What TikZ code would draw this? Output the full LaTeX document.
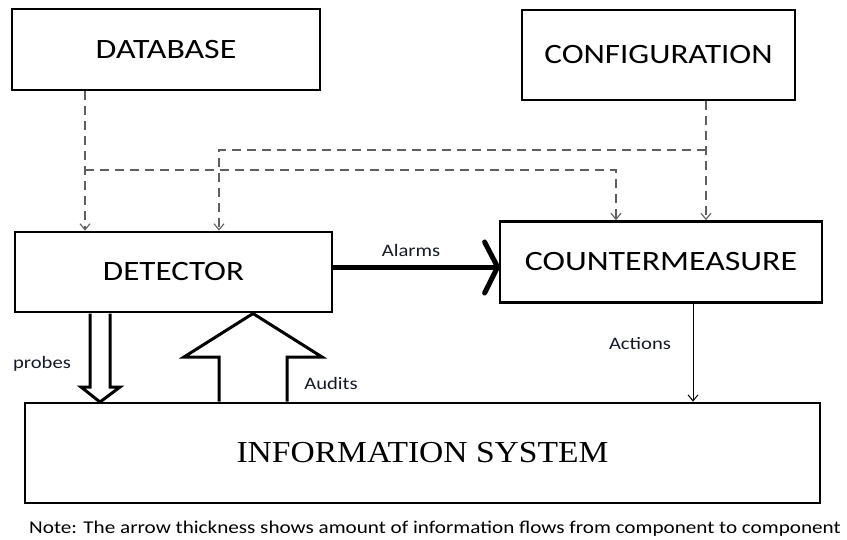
\documentclass[tikz,border=0pt]{standalone}
\usepackage{fontspec}
\usepackage{graphicx}
\setmainfont{Carlito}
\newfontfamily\tnr{Liberation Serif}
\usetikzlibrary{arrows.meta}
\newcommand{\hs}[1]{\scalebox{1.18}[1]{#1}}
\definecolor{dashgray}{RGB}{95,95,95}
\definecolor{labelcol}{RGB}{20,25,40}
\begin{document}
\begin{tikzpicture}[x=1pt,y=-1pt,
  box/.style={draw,line width=2.8pt,inner sep=0pt,font=\fontsize{28}{30}\selectfont},
  dsh/.style={draw=dashgray,line width=1.3pt,dash pattern=on 9pt off 6pt,
     -{Straight Barb[length=6pt,width=10pt,line width=1.1pt]}},
  lbl/.style={font=\fontsize{17.5}{19}\selectfont,text=labelcol,inner sep=0pt},
  hollow/.style={draw,line width=3pt,line join=miter,fill=white}
]
\useasboundingbox (0,0) rectangle (847,539);

% boxes
\node[box,minimum width=308,minimum height=81] (db) at (166,49.5) {\scalebox{1.21}[1]{DATABASE}};
\node[box,minimum width=273,minimum height=90] (cfg) at (658.5,55) {\hs{CONFIGURATION}};
\node[box,minimum width=317,minimum height=80] (det) at (173.5,272) {\hs{DETECTOR}};
\node[box,minimum width=322,minimum height=81] (cm) at (661,262) {\scalebox{1.21}[1]{COUNTERMEASURE}};
\node[box,minimum width=795,minimum height=100,font=\tnr\fontsize{30.5}{32}\selectfont] (info) at (422.5,453) {\scalebox{1.1}[1]{INFORMATION SYSTEM}};

% helper coordinates
\coordinate (xa) at (85,0);
\coordinate (xb) at (616,0);
\coordinate (xc) at (706,0);
\coordinate (xd) at (219,0);
\coordinate (xe) at (693,0);
\coordinate (ya) at (0,267);
\coordinate (b1) at (85,170);
\coordinate (b2) at (706,150);

% dashed flows
\draw[dsh] (db.south -| xa) -- (det.north -| xa);
\draw[dsh] (b1) -| (cm.north -| xb);
\draw[dsh] (cfg.south -| xc) -- (cm.north -| xc);
\draw[dsh] (b2) -| (det.north -| xd);

% alarms
\draw[line width=5pt] (det.east |- ya) -- ([xshift=-3pt]cm.west |- ya);
\draw[line width=5pt,line cap=round,line join=round]
  (cm.west |- ya) ++(-14,-25) -- ([xshift=-1pt]cm.west |- ya) -- ++(-13,26);
\node[lbl,anchor=base] (alarms) at (411,256) {\hs{Alarms}};

% probes (hollow down arrow)
\draw[hollow] (90,313.5) -- (90,387) -- (81,387) -- (100,402) -- (120,387) -- (110,387) -- (110,313.5);
\node[lbl,anchor=base] (probes) at (42,368) {\hs{probes}};

% audits (hollow up arrow)
\draw[hollow] (219,401.5) -- (219,357) -- (184,357) -- (253,313.5) -- (322,357) -- (287,357) -- (287,401.5);
\node[lbl,anchor=base] (audits) at (331,389) {\hs{Audits}};

% actions
\draw[line width=1pt,-{Straight Barb[length=6pt,width=10pt,line width=1pt]}] (cm.south -| xe) -- (info.north -| xe);
\node[lbl,anchor=base] (actions) at (640,349) {\hs{Actions}};

% note
\node[font=\fontsize{18}{20}\selectfont,inner sep=0pt,anchor=base] (note) at (435,533)
  {\scalebox{1.175}[1]{Note: The arrow thickness shows amount of information flows from component to component}};
\end{tikzpicture}
\end{document}
